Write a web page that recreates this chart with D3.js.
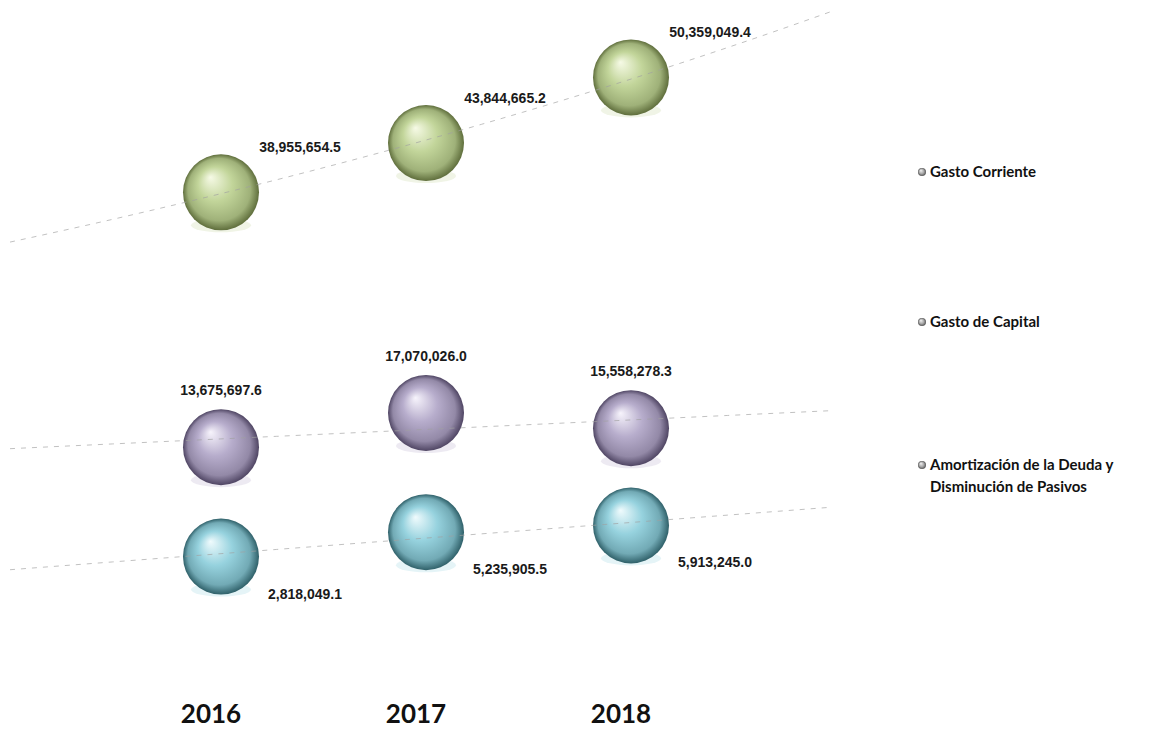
<!DOCTYPE html>
<html lang="es">
<head>
<meta charset="UTF-8" />
<title>Gasto por tipo 2016-2018</title>
<style>
    body { margin: 0; background: #fff; }
    svg { display: block; }
    .val { font: bold 14px "Liberation Sans", Arial, sans-serif; fill: #1a1a1a; }
    .year { font: bold 26px Lato, "Open Sans", sans-serif; fill: #111; }
    .legend text { font: bold 15px Lato, "Open Sans", sans-serif; fill: #111; }
    .trend { fill: none; stroke: #a0a0a0; stroke-width: 1; stroke-dasharray: 5 6; opacity: 0.65; }
</style>
</head>
<body>
<svg width="1166" height="730"></svg>
<script src="https://d3js.org/d3.v7.min.js"></script>
<script>
const years = ['2016', '2017', '2018'];
const seriesNames = ['Gasto Corriente', 'Gasto de Capital', 'Amortización de la Deuda y Disminución de Pasivos'];
const gastoCorriente = [38955654.5, 43844665.2, 50359049.4];
const gastoCapital = [13675697.6, 17070026.0, 15558278.3];
const amortizacion = [2818049.1, 5235905.5, 5913245.0];
const trendTypes = ['exp', 'linear', 'linear'];

const seriesValues = [gastoCorriente, gastoCapital, amortizacion];
const colors = [
    { light: '#f6fae6', base: '#c2d59a', dark: '#5f6e3c' },
    { light: '#f7f4fc', base: '#b7adcc', dark: '#4f4563' },
    { light: '#f0fbfd', base: '#96d2de', dark: '#2f6069' }
];
// label placement per series: above-right, above, below-right
const labelOffsets = [[79, -45], [0, -57], [84, 37]];

const svg = d3.select('svg');
const defs = svg.append('defs');

const x = d3.scalePoint().domain(years).range([221, 631]);
const y = d3.scaleLinear().domain([0, 50e6]).range([585, 81]);
const t = d3.scaleLinear().domain([0, years.length - 1]).range([x(years[0]), x(years[years.length - 1])]);
const r = 38;

colors.forEach((c, i) => {
    const g = defs.append('radialGradient').attr('id', 'ball' + i)
        .attr('cx', '50%').attr('cy', '50%').attr('r', '50%')
        .attr('fx', '36%').attr('fy', '30%');
    g.append('stop').attr('offset', '0%').attr('stop-color', c.light);
    g.append('stop').attr('offset', '45%').attr('stop-color', c.base);
    g.append('stop').attr('offset', '82%').attr('stop-color', d3.interpolateRgb(c.base, c.dark)(0.35));
    g.append('stop').attr('offset', '100%').attr('stop-color', c.dark);
});
const lg = defs.append('radialGradient').attr('id', 'legball').attr('fx', '35%').attr('fy', '30%');
lg.append('stop').attr('offset', '0%').attr('stop-color', '#f4f4f4');
lg.append('stop').attr('offset', '60%').attr('stop-color', '#a8a8a8');
lg.append('stop').attr('offset', '100%').attr('stop-color', '#555');

// trend line fitted on index 0..n-1
function trend(vals, type) {
    const idx = vals.map((v, i) => i);
    const ys = type === 'exp' ? vals.map(Math.log) : vals;
    const mx = d3.mean(idx), my = d3.mean(ys);
    const b = d3.sum(idx, (k) => (k - mx) * (ys[k] - my)) / d3.sum(idx, (k) => (k - mx) * (k - mx));
    const a = my - b * mx;
    return (k) => (type === 'exp' ? Math.exp(a + b * k) : a + b * k);
}

const lineGen = d3.line().x((d) => t(d[0])).y((d) => y(d[1]));
const t0 = t.invert(10), t1 = t.invert(830);

const balls = svg.append('g');
const trends = svg.append('g');
const labels = svg.append('g');

seriesValues.forEach((vals, s) => {
    const f = trend(vals, trendTypes[s]);
    const pts = d3.range(0, 41).map((k) => {
        const tk = t0 + (t1 - t0) * k / 40;
        return [tk, f(tk)];
    });
    trends.append('path').attr('class', 'trend').attr('d', lineGen(pts));

    const g = balls.append('g');
    // faint reflection under each ball
    g.selectAll('ellipse').data(vals).join('ellipse')
        .attr('cx', (d, i) => x(years[i]))
        .attr('cy', (d) => y(d) + r - 5)
        .attr('rx', r - 8).attr('ry', 7)
        .attr('fill', colors[s].base).attr('opacity', 0.25);
    g.selectAll('circle').data(vals).join('circle')
        .attr('cx', (d, i) => x(years[i]))
        .attr('cy', (d) => y(d))
        .attr('r', r)
        .attr('fill', `url(#ball${s})`);

    labels.selectAll(null).data(vals).join('text')
        .attr('class', 'val')
        .attr('text-anchor', 'middle')
        .attr('x', (d, i) => x(years[i]) + labelOffsets[s][0])
        .attr('y', (d) => y(d) + labelOffsets[s][1] + 5)
        .text((d) => d3.format(',.1f')(d));
});

svg.append('g').selectAll('text').data(years).join('text')
    .attr('class', 'year')
    .attr('text-anchor', 'middle')
    .attr('x', (d) => x(d) - 10)
    .attr('y', 723)
    .text((d) => d);

const legendY = [172, 322, 465];
const legend = svg.append('g').attr('class', 'legend');
seriesNames.forEach((name, i) => {
    legend.append('circle').attr('cx', 922).attr('cy', legendY[i]).attr('r', 4).attr('fill', 'url(#legball)');
    const words = i === 2 ? ['Amortización de la Deuda y', 'Disminución de Pasivos'] : [name];
    const txt = legend.append('text').attr('x', 930).attr('y', legendY[i] + 5);
    words.forEach((w, k) => txt.append('tspan').attr('x', 930).attr('dy', k ? 22 : 0).text(w));
});
</script>
</body>
</html>
